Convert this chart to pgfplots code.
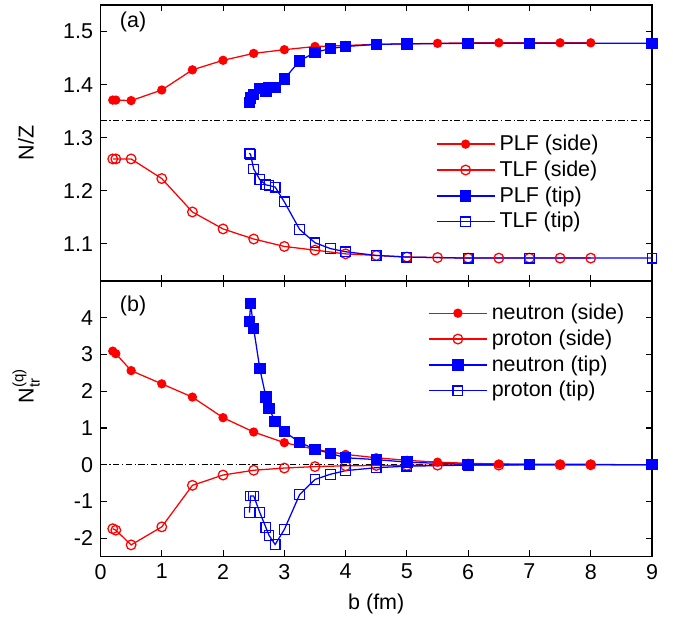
\documentclass[border=0pt]{standalone}
\usepackage{fontspec}
\setmainfont{Liberation Sans}
\usepackage{amsmath}
\usepackage{pgfplots}
\pgfplotsset{compat=1.18}

\pgfplotsset{
  panel/.style={
    scale only axis, width=262pt, height=131pt,
    xmin=0, xmax=9, xtick={0,...,9},
    tick align=inside, major tick length=3pt,
    axis line style={line width=0.7pt},
    every tick/.style={black, line width=0.5pt},
    tick label style={font=\fontsize{10.2}{12}\selectfont},
    label style={font=\fontsize{10.2}{12}\selectfont},
    legend style={draw=none, fill=none, font=\fontsize{10.2}{12}\selectfont, row sep=-0.6pt},
    legend cell align=left,
    legend image code/.code={\draw[mark repeat=2,mark phase=2] plot coordinates {(0pt,0pt)(13.8pt,0pt)(27.6pt,0pt)};},
  },
  sidef/.style={red, line width=0.6pt, mark=*, mark size=1.9pt, mark options={solid, fill=red}},
  sideo/.style={red, line width=0.6pt, mark=o, mark size=2.3pt, mark options={solid}},
  tipf/.style={blue, line width=0.6pt, mark=square*, mark size=2.4pt, mark options={solid, fill=blue}},
  tipo/.style={blue, line width=0.6pt, mark=square, mark size=2.3pt, mark options={solid}},
  refline/.style={black, line width=0.4pt, dash pattern=on 3pt off 1.2pt on 0.6pt off 1.2pt, forget plot},
}

\begin{document}
\begin{tikzpicture}
% (a) N/Z of the fragments
\begin{axis}[panel, name=top,
    ymin=1.03, ymax=1.55, ytick={1.1,1.2,1.3,1.4,1.5},
    yticklabels={1.1,1.2,1.3,1.4,1.5},
    xticklabels=\empty,
    ylabel={N/Z},
    ylabel style={at={(rel axis cs:-0.135,0.5)}, anchor=center},
    legend style={at={(rel axis cs:0.596,0.562)}, anchor=north west},
]
\addplot[refline] coordinates {(0,1.3333)(9,1.3333)};
\addplot[sidef] coordinates {(0.2,1.371)(0.25,1.371)(0.5,1.370)(1,1.390)(1.5,1.428)(2,1.446)(2.5,1.459)(3,1.466)(3.5,1.472)(4,1.474)(4.5,1.476)(5,1.477)(5.5,1.478)(6,1.479)(6.5,1.479)(7,1.479)(7.5,1.479)(8,1.479)};
\addlegendentry{PLF (side)}
\addplot[sideo] coordinates {(0.2,1.260)(0.25,1.260)(0.5,1.260)(1,1.223)(1.5,1.160)(2,1.128)(2.5,1.109)(3,1.095)(3.5,1.088)(4,1.081)(4.5,1.078)(5,1.075)(5.5,1.074)(6,1.073)(6.5,1.073)(7,1.073)(7.5,1.073)(8,1.073)};
\addlegendentry{TLF (side)}
\addplot[tipf] coordinates {(2.43,1.366)(2.45,1.375)(2.5,1.382)(2.6,1.393)(2.7,1.387)(2.75,1.395)(2.85,1.395)(3,1.411)(3.25,1.445)(3.5,1.461)(3.75,1.468)(4,1.472)(4.5,1.476)(5,1.477)(6,1.478)(7,1.478)(9,1.478)};
\addlegendentry{PLF (tip)}
\addplot[tipo] coordinates {(2.43,1.271)(2.45,1.268)(2.5,1.241)(2.6,1.221)(2.7,1.211)(2.75,1.210)(2.85,1.207)(3,1.179)(3.25,1.127)(3.5,1.102)(3.75,1.091)(4,1.085)(4.5,1.078)(5,1.075)(6,1.073)(7,1.073)(9,1.073)};
\addlegendentry{TLF (tip)}
\node[font=\fontsize{10.2}{12}\selectfont] at (rel axis cs:0.059,0.938) {(a)};
\end{axis}

% (b) transferred nucleons
\begin{axis}[panel, name=bot, at={(top.south west)}, anchor=north west,
    ymin=-2.5, ymax=5, ytick={-2,-1,0,1,2,3,4},
    yticklabels={-2,-1,0,1,2,3,4},
    xticklabels={0,1,2,3,4,5,6,7,8,9},
    xlabel={b (fm)},
    ylabel={$\text{N}^{\text{(q)}}_{\text{tr}}$},
    ylabel style={at={(rel axis cs:-0.135,0.62)}, anchor=center},
    legend style={at={(rel axis cs:0.582,0.949)}, anchor=north west},
]
\addplot[refline] coordinates {(0,0)(9,0)};
\addplot[sidef] coordinates {(0.2,3.09)(0.25,3.02)(0.5,2.56)(1,2.20)(1.5,1.84)(2,1.28)(2.5,0.89)(3,0.60)(3.5,0.42)(4,0.28)(4.5,0.19)(5,0.12)(5.5,0.07)(6,0.04)(6.5,0.02)(7,0.01)(7.5,0.01)(8,0.01)};
\addlegendentry{neutron (side)}
\addplot[sideo] coordinates {(0.2,-1.74)(0.25,-1.78)(0.5,-2.18)(1,-1.69)(1.5,-0.56)(2,-0.28)(2.5,-0.15)(3,-0.09)(3.5,-0.05)(4,-0.03)(4.5,-0.02)(5,-0.02)(5.5,-0.01)(6,-0.01)(6.5,-0.01)(7,0)(7.5,0)(8,0)};
\addlegendentry{proton (side)}
\addplot[tipf] coordinates {(2.43,3.89)(2.45,4.38)(2.5,3.70)(2.6,2.61)(2.7,1.84)(2.75,1.53)(2.85,1.18)(3,0.90)(3.25,0.61)(3.5,0.42)(3.75,0.31)(4,0.19)(4.5,0.14)(5,0.07)(6,0.01)(7,0.01)(9,0)};
\addlegendentry{neutron (tip)}
\addplot[tipo] coordinates {(2.43,-1.30)(2.45,-0.85)(2.5,-0.85)(2.6,-1.30)(2.7,-1.71)(2.75,-1.92)(2.85,-2.17)(3,-1.76)(3.25,-0.81)(3.5,-0.40)(3.75,-0.26)(4,-0.16)(4.5,-0.08)(5,-0.04)(6,-0.01)(7,0)(9,0)};
\addlegendentry{proton (tip)}
\node[font=\fontsize{10.2}{12}\selectfont] at (rel axis cs:0.059,0.91) {(b)};
\end{axis}

\path (bot.south west) ++(-47.74pt,-33.87pt) rectangle ++(319.7pt,298.3pt);
\end{tikzpicture}
\end{document}
